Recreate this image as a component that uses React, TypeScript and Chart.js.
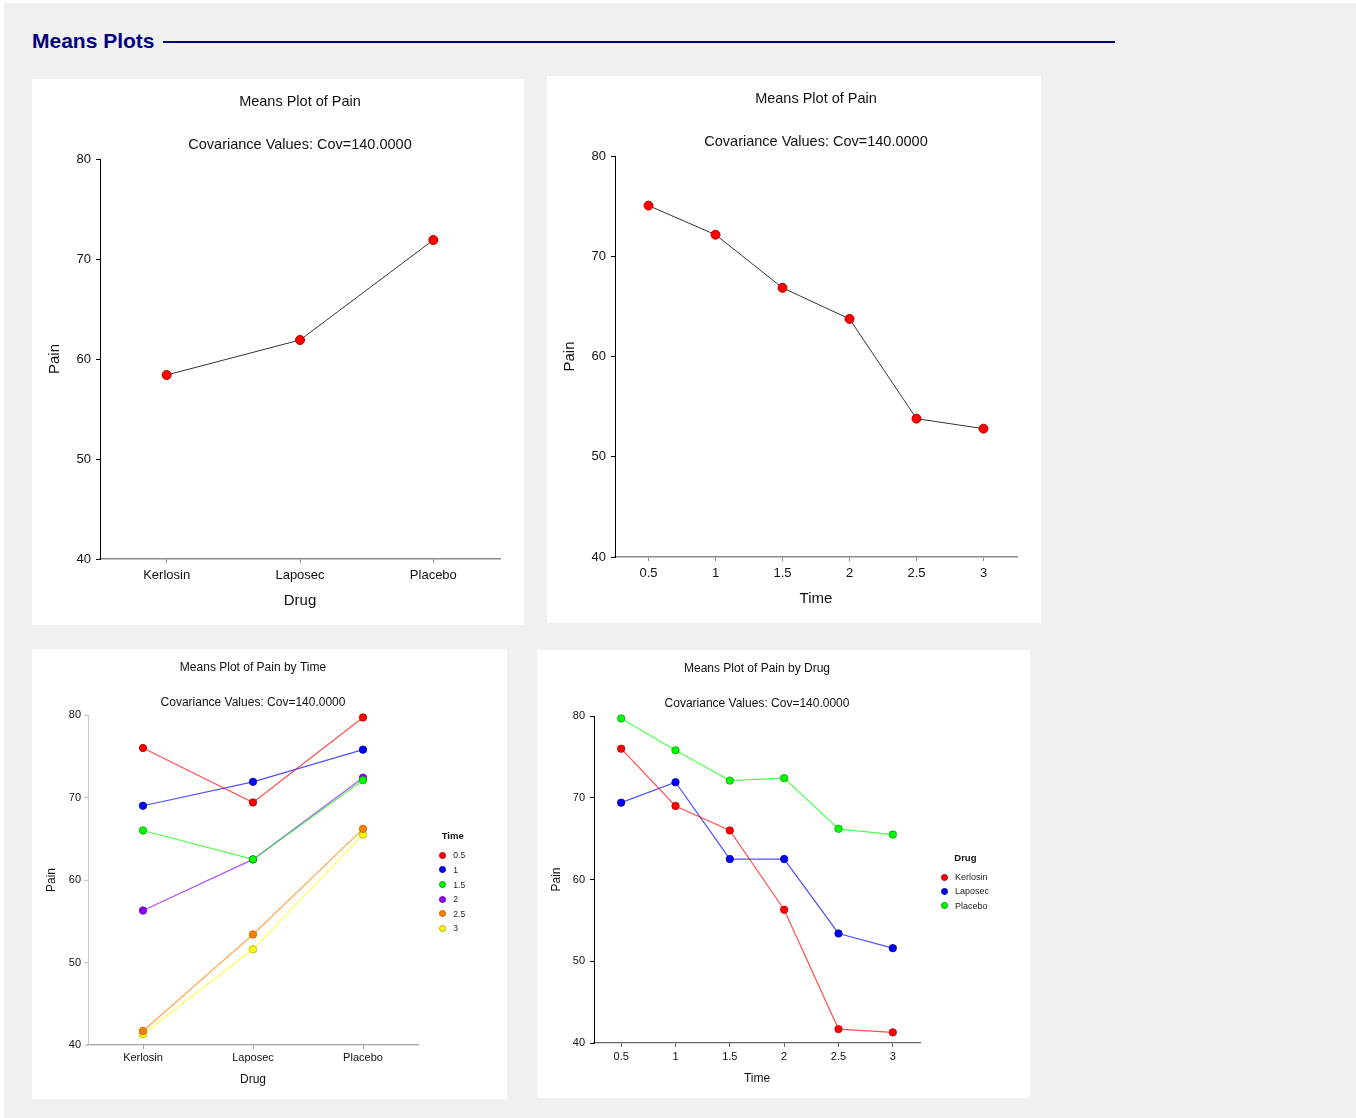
import React, { useEffect, useRef } from 'react';
import { Chart, registerables } from 'chart.js';

Chart.register(...registerables);

const FONT = '"Liberation Sans", Arial, Helvetica, sans-serif';

// ---- data ----
const drugs = ['Kerlosin', 'Laposec', 'Placebo'];
const times = ['0.5', '1', '1.5', '2', '2.5', '3'];
const painByDrug = [58.4, 61.9, 71.9];
const painByTime = [75.05, 72.15, 66.85, 63.75, 53.8, 52.8];
const kerlosinByTime = [76.0, 69.0, 66.0, 56.3, 41.7, 41.3];
const laposecByTime = [69.4, 71.9, 62.5, 62.5, 53.4, 51.6];
const placeboByTime = [79.7, 75.8, 72.1, 72.4, 66.2, 65.5];
const yMin = 40;
const yMax = 80;
const yStep = 10;
const mainTitle = 'Means Plot of Pain';
const covText = 'Covariance Values: Cov=140.0000';

const drugColors = ['#ff0000', '#0000ff', '#00ff00'];
const drugBorders = ['#b00000', '#0000a0', '#00a000'];
const timeColors = ['#ff0000', '#0000ff', '#00ff00', '#9000ff', '#ff8000', '#ffff00'];
const timeBorders = ['#b00000', '#0000a0', '#00a000', '#6000b0', '#c06000', '#b0b000'];

const drugTable = [kerlosinByTime, laposecByTime, placeboByTime];

type Area = { left: number; right: number; top: number; bottom: number };
type LegendSpec = {
  title: string;
  names: string[];
  colors: string[];
  borders: string[];
  titleLeft: number;
  titleCY: number;
  markerCX: number;
  firstCY: number;
  step: number;
  textLeft: number;
  titleSize: number;
  textSize: number;
  markerD: number;
};
type PanelSpec = {
  left: number;
  top: number;
  width: number;
  height: number;
  title: string;
  labels: string[];
  datasets: any[];
  xTitle: string;
  yTitle: string;
  area: Area;
  titleSize: number;
  tickSize: number;
  axisTitleSize: number;
  titleY: number;
  subtitleY: number;
  yTitleX: number;
  xTitleY: number;
  xTickY: number;
  yTickGap: number;
  tickLen: number;
  yBorder: string;
  yBorderWidth: number;
  xBorder: string;
  xBorderWidth: number;
  legend?: LegendSpec;
};

function buildConfig(p: PanelSpec): any {
  const tLH = p.titleSize * 1.2;
  const titlePadTop = p.titleY - tLH / 2;
  const subPadTop = p.subtitleY - tLH / 2 - (titlePadTop + tLH);
  const subPadBottom = p.area.top - (p.subtitleY + tLH / 2);
  const axLH = p.axisTitleSize * 1.2;
  const tickLH = p.tickSize * 1.2;
  const titleFont = { family: FONT, size: p.titleSize, weight: 'normal', lineHeight: 1.2 };
  const tickFont = { family: FONT, size: p.tickSize, weight: 'normal', lineHeight: 1.2 };
  const axFont = { family: FONT, size: p.axisTitleSize, weight: 'normal', lineHeight: 1.2 };
  return {
    type: 'line',
    data: { labels: p.labels, datasets: p.datasets },
    options: {
      responsive: false,
      animation: false,
      devicePixelRatio: 1,
      events: [],
      layout: { padding: { left: 0, top: 0, bottom: 0, right: p.width - p.area.right } },
      plugins: {
        legend: { display: false },
        tooltip: { enabled: false },
        title: {
          display: true,
          text: p.title,
          fullSize: false,
          color: '#111',
          font: titleFont,
          padding: { top: titlePadTop, bottom: 0 },
        },
        subtitle: {
          display: true,
          text: covText,
          fullSize: false,
          color: '#111',
          font: titleFont,
          padding: { top: subPadTop, bottom: subPadBottom },
        },
      },
      scales: {
        x: {
          type: 'category',
          offset: true,
          grid: {
            display: true,
            drawOnChartArea: false,
            drawTicks: true,
            tickLength: p.tickLen,
            color: p.xBorder,
            tickColor: p.xBorder,
            lineWidth: 1,
          },
          border: { display: true, color: p.xBorder, width: p.xBorderWidth },
          ticks: {
            color: '#111',
            font: tickFont,
            padding: p.xTickY - p.area.bottom - p.tickLen - tickLH / 2,
            maxRotation: 0,
            autoSkip: false,
          },
          title: {
            display: true,
            text: p.xTitle,
            color: '#111',
            font: axFont,
            padding: { top: 0, bottom: p.height - p.xTitleY - axLH / 2 },
          },
          afterFit: (s: any) => {
            s.height = p.height - p.area.bottom;
          },
        },
        y: {
          type: 'linear',
          min: yMin,
          max: yMax,
          grid: {
            display: true,
            drawOnChartArea: false,
            drawTicks: true,
            tickLength: p.tickLen,
            color: p.yBorder,
            tickColor: p.yBorder,
            lineWidth: 1,
          },
          border: { display: true, color: p.yBorder, width: p.yBorderWidth },
          ticks: {
            stepSize: yStep,
            color: '#111',
            font: tickFont,
            padding: p.yTickGap - p.tickLen,
          },
          title: {
            display: true,
            text: p.yTitle,
            color: '#111',
            font: axFont,
            padding: { top: p.yTitleX - axLH / 2, bottom: 0 },
          },
          afterFit: (s: any) => {
            s.width = p.area.left;
          },
        },
      },
    },
  };
}

function Legend({ lg }: { lg: LegendSpec }) {
  const r = lg.markerD / 2;
  return (
    <>
      <div
        style={{
          position: 'absolute',
          left: lg.titleLeft,
          top: lg.titleCY - 8,
          height: 16,
          lineHeight: '16px',
          fontFamily: FONT,
          fontWeight: 'bold',
          fontSize: lg.titleSize,
          color: '#111',
          whiteSpace: 'nowrap',
        }}
      >
        {lg.title}
      </div>
      {lg.names.map((name, i) => {
        const cy = lg.firstCY + i * lg.step;
        return (
          <React.Fragment key={name}>
            <div
              style={{
                position: 'absolute',
                left: lg.markerCX - r,
                top: cy - r,
                width: lg.markerD,
                height: lg.markerD,
                borderRadius: '50%',
                boxSizing: 'border-box',
                background: lg.colors[i],
                border: `1px solid ${lg.borders[i]}`,
              }}
            />
            <div
              style={{
                position: 'absolute',
                left: lg.textLeft,
                top: cy - 7,
                height: 14,
                lineHeight: '14px',
                fontFamily: FONT,
                fontSize: lg.textSize,
                color: '#222',
                whiteSpace: 'nowrap',
              }}
            >
              {name}
            </div>
          </React.Fragment>
        );
      })}
    </>
  );
}

function ChartPanel({ spec }: { spec: PanelSpec }) {
  const ref = useRef<HTMLCanvasElement | null>(null);
  useEffect(() => {
    if (!ref.current) return;
    const chart = new Chart(ref.current, buildConfig(spec));
    return () => chart.destroy();
  }, [spec]);
  return (
    <div
      style={{
        position: 'absolute',
        left: spec.left,
        top: spec.top,
        width: spec.width,
        height: spec.height,
        background: '#ffffff',
      }}
    >
      <canvas
        ref={ref}
        width={spec.width}
        height={spec.height}
        style={{ display: 'block', width: spec.width, height: spec.height }}
      />
      {spec.legend ? <Legend lg={spec.legend} /> : null}
    </div>
  );
}

const singleSeries = (values: number[]) => [
  {
    data: values,
    borderColor: '#333333',
    borderWidth: 1,
    tension: 0,
    fill: false,
    pointRadius: 4.5,
    pointBackgroundColor: '#ff0000',
    pointBorderColor: '#b00000',
    pointBorderWidth: 1,
    clip: false,
  },
];

const timeSeriesByDrug = times.map((t, ti) => ({
  label: t,
  data: drugs.map((_, di) => drugTable[di][ti]),
  borderColor: timeColors[ti] + 'b0',
  borderWidth: 1.2,
  tension: 0,
  fill: false,
  pointRadius: 3.7,
  pointBackgroundColor: timeColors[ti],
  pointBorderColor: timeBorders[ti],
  pointBorderWidth: 0.8,
  clip: false,
}));

const drugSeriesByTime = drugs.map((d, di) => ({
  label: d,
  data: drugTable[di],
  borderColor: drugColors[di] + 'b0',
  borderWidth: 1.2,
  tension: 0,
  fill: false,
  pointRadius: 3.7,
  pointBackgroundColor: drugColors[di],
  pointBorderColor: drugBorders[di],
  pointBorderWidth: 0.8,
  clip: false,
}));

const panels: PanelSpec[] = [
  {
    left: 32, top: 79, width: 492, height: 546,
    title: mainTitle, labels: drugs, datasets: singleSeries(painByDrug),
    xTitle: 'Drug', yTitle: 'Pain',
    area: { left: 68, right: 468, top: 80, bottom: 480 },
    titleSize: 14.5, tickSize: 13, axisTitleSize: 15,
    titleY: 23, subtitleY: 65.5, yTitleX: 23, xTitleY: 522, xTickY: 496,
    yTickGap: 9, tickLen: 4,
    yBorder: '#000000', yBorderWidth: 1, xBorder: '#8c8c8c', xBorderWidth: 1.5,
  },
  {
    left: 547, top: 76, width: 494, height: 547,
    title: mainTitle, labels: times, datasets: singleSeries(painByTime),
    xTitle: 'Time', yTitle: 'Pain',
    area: { left: 68, right: 470, top: 80, bottom: 481 },
    titleSize: 14.5, tickSize: 13, axisTitleSize: 15,
    titleY: 23, subtitleY: 65.5, yTitleX: 23, xTitleY: 523, xTickY: 497,
    yTickGap: 9, tickLen: 4,
    yBorder: '#000000', yBorderWidth: 1, xBorder: '#8c8c8c', xBorderWidth: 1.5,
  },
  {
    left: 32, top: 649, width: 475, height: 450,
    title: 'Means Plot of Pain by Time', labels: drugs, datasets: timeSeriesByDrug,
    xTitle: 'Drug', yTitle: 'Pain',
    area: { left: 56, right: 386, top: 66, bottom: 396 },
    titleSize: 12, tickSize: 11, axisTitleSize: 12,
    titleY: 18.5, subtitleY: 53.5, yTitleX: 20, xTitleY: 431, xTickY: 409,
    yTickGap: 7, tickLen: 4,
    yBorder: '#c8c8c8', yBorderWidth: 1, xBorder: '#a0a0a0', xBorderWidth: 1.2,
    legend: {
      title: 'Time', names: times, colors: timeColors, borders: timeBorders,
      titleLeft: 409.7, titleCY: 187, markerCX: 410.3, firstCY: 206.3, step: 14.6,
      textLeft: 421.3, titleSize: 9.5, textSize: 8.5, markerD: 7,
    },
  },
  {
    left: 537, top: 650, width: 493, height: 448,
    title: 'Means Plot of Pain by Drug', labels: times, datasets: drugSeriesByTime,
    xTitle: 'Time', yTitle: 'Pain',
    area: { left: 57, right: 383, top: 66, bottom: 393 },
    titleSize: 12, tickSize: 11, axisTitleSize: 12,
    titleY: 18.5, subtitleY: 53.5, yTitleX: 19.3, xTitleY: 428.7, xTickY: 407,
    yTickGap: 9, tickLen: 4,
    yBorder: '#000000', yBorderWidth: 1, xBorder: '#666666', xBorderWidth: 1.2,
    legend: {
      title: 'Drug', names: drugs, colors: drugColors, borders: drugBorders,
      titleLeft: 417.3, titleCY: 207.7, markerCX: 407.3, firstCY: 227, step: 14.4,
      textLeft: 418, titleSize: 9.5, textSize: 9, markerD: 7,
    },
  },
];

export default function App() {
  return (
    <div
      style={{
        position: 'absolute',
        left: 0,
        top: 0,
        width: 1356,
        height: 1118,
        background: '#ffffff',
        overflow: 'hidden',
      }}
    >
      <div
        style={{
          position: 'absolute',
          left: 4,
          top: 3,
          width: 1352,
          height: 1115,
          background: '#f0f0f0',
        }}
      />
      <div
        style={{
          position: 'absolute',
          left: 32,
          top: 30,
          height: 22,
          lineHeight: '22px',
          fontFamily: FONT,
          fontWeight: 'bold',
          fontSize: 21,
          color: '#000080',
          whiteSpace: 'nowrap',
        }}
      >
        Means Plots
      </div>
      <div
        style={{
          position: 'absolute',
          left: 163,
          top: 40.5,
          width: 952,
          height: 2,
          background: '#000080',
        }}
      />
      {panels.map((p, i) => (
        <ChartPanel key={i} spec={p} />
      ))}
    </div>
  );
}
